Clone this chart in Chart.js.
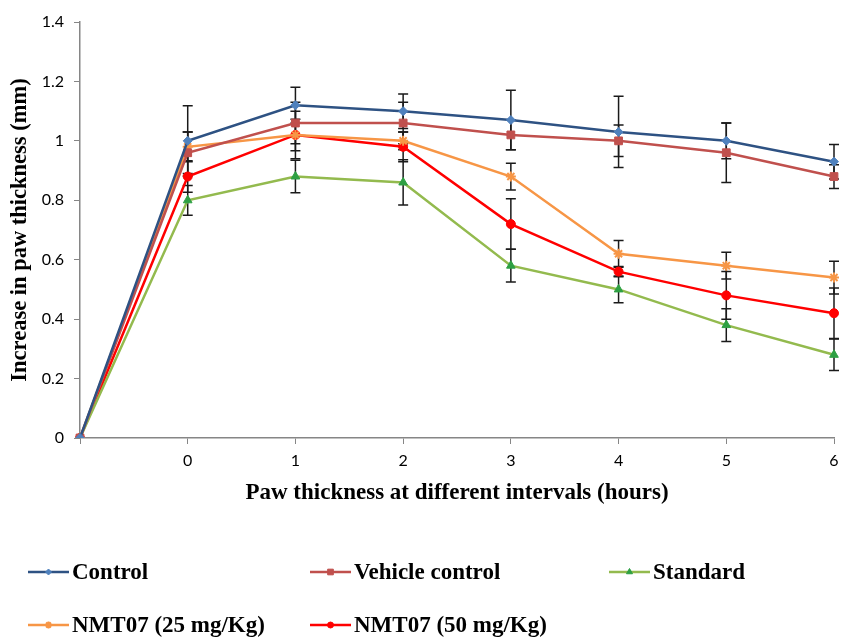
<!DOCTYPE html>
<html>
<head>
<meta charset="utf-8">
<script src="https://cdn.jsdelivr.net/npm/chart.js@4.4.0/dist/chart.umd.min.js"></script>
<style>
  html, body { margin: 0; padding: 0; background: #fff; }
  #wrap { width: 841px; height: 637px; }
</style>
</head>
<body>
<div id="wrap"><canvas id="pawChart"></canvas></div>
<script>
// time points (hours); the first, unlabeled one is the baseline
const hours = ["", "0", "1", "2", "3", "4", "5", "6"];
const yTicks = ["0", "0.2", "0.4", "0.6", "0.8", "1", "1.2", "1.4"];

const control        = [0, 1.00, 1.12, 1.10, 1.07, 1.03, 1.00, 0.93];
const controlErr     = [0, 0.118, 0.06, 0.058, 0.10, 0.12, 0.06, 0.058];
const vehicle        = [0, 0.96, 1.06, 1.06, 1.02, 1.00, 0.96, 0.88];
const vehicleErr     = [0, 0.07, 0.07, 0.07, 0.05, 0.053, 0.10, 0.04];
const standard       = [0, 0.80, 0.88, 0.86, 0.58, 0.50, 0.38, 0.28];
const standardErr    = [0, 0.05, 0.055, 0.076, 0.055, 0.045, 0.055, 0.053];
const nmt25          = [0, 0.98, 1.02, 1.00, 0.88, 0.62, 0.58, 0.54];
const nmt25Err       = [0, 0.05, 0.08, 0.03, 0.045, 0.045, 0.045, 0.055];
const nmt50          = [0, 0.88, 1.02, 0.98, 0.72, 0.56, 0.48, 0.42];
const nmt50Err       = [0, 0.053, 0.053, 0.05, 0.085, 0.017, 0.08, 0.085];

const serif = "'Liberation Serif', 'Times New Roman', serif";

function series(label, data, err, line, marker, style, radius) {
  return {
    label: label,
    data: data,
    errors: err,
    borderColor: line,
    backgroundColor: marker,
    pointBackgroundColor: marker,
    pointBorderColor: marker,
    pointStyle: style,
    pointRadius: radius,
    pointBorderWidth: style === "star" ? 2 : 1,
    borderWidth: 2.5,
    tension: 0
  };
}

// vertical +/- bars with caps, under the lines
const errorBars = {
  id: "errorBars",
  beforeDatasetsDraw(chart) {
    const ctx = chart.ctx;
    const y = chart.scales.y;
    ctx.save();
    ctx.strokeStyle = "#1a1a1a";
    ctx.lineWidth = 1.5;
    chart.data.datasets.forEach((ds, i) => {
      const meta = chart.getDatasetMeta(i);
      ds.data.forEach((v, j) => {
        const e = ds.errors[j];
        if (!e) return;
        const x = meta.data[j].x;
        const top = y.getPixelForValue(v + e);
        const bot = y.getPixelForValue(v - e);
        ctx.beginPath();
        ctx.moveTo(x, top); ctx.lineTo(x, bot);
        ctx.moveTo(x - 5, top); ctx.lineTo(x + 5, top);
        ctx.moveTo(x - 5, bot); ctx.lineTo(x + 5, bot);
        ctx.stroke();
      });
    });
    ctx.restore();
  }
};

// legend laid out in a fixed grid under the axis title
const legendSlots = [[28, 572], [310, 572], [609, 572], [28, 625], [310, 625]];
const gridLegend = {
  id: "gridLegend",
  afterDraw(chart) {
    const ctx = chart.ctx;
    ctx.save();
    chart.data.datasets.forEach((ds, i) => {
      const [x, yy] = legendSlots[i];
      ctx.strokeStyle = ds.borderColor;
      ctx.lineWidth = 2.5;
      ctx.beginPath();
      ctx.moveTo(x, yy); ctx.lineTo(x + 41, yy);
      ctx.stroke();
      ctx.fillStyle = ds.pointBackgroundColor;
      ctx.strokeStyle = ds.pointBorderColor;
      ctx.lineWidth = ds.pointBorderWidth;
      Chart.helpers.drawPoint(ctx, {
        pointStyle: ds.pointStyle,
        radius: Math.max(ds.pointRadius - 1.5, 3),
        borderWidth: ds.pointBorderWidth,
        rotation: 0
      }, x + 20.5, yy);
      ctx.fillStyle = "#000";
      ctx.font = "bold 23px " + serif;
      ctx.textBaseline = "middle";
      ctx.textAlign = "left";
      ctx.fillText(ds.label, x + 44, yy + 1);
    });
    ctx.restore();
  }
};

new Chart(document.getElementById("pawChart"), {
  type: "line",
  data: {
    labels: hours,
    datasets: [
      series("Control", control, controlErr, "#2E5283", "#4F81BD", "rectRot", 4.5),
      series("Vehicle control", vehicle, vehicleErr, "#C0504D", "#C0504D", "rect", 5.5),
      series("Standard", standard, standardErr, "#93BA4E", "#2EA043", "triangle", 5),
      series("NMT07 (25 mg/Kg)", nmt25, nmt25Err, "#F79646", "#F79646", "star", 5),
      series("NMT07 (50 mg/Kg)", nmt50, nmt50Err, "#FF0000", "#FF0000", "circle", 4.5)
    ]
  },
  options: {
    responsive: true,
    maintainAspectRatio: false,
    animation: false,
    layout: { padding: { top: 22, right: 7, bottom: 127, left: 0 } },
    plugins: {
      legend: { display: false },
      tooltip: { enabled: false }
    },
    scales: {
      x: {
        offset: false,
        afterFit: (s) => { s.height = 72; s.paddingLeft = 0; s.paddingRight = 0; },
        border: { color: "#868686", width: 1.5 },
        grid: { drawOnChartArea: false, color: "#868686", tickLength: 6 },
        ticks: { color: "#000", font: { family: "Lato, sans-serif", size: 16 }, padding: 7, maxRotation: 0 },
        title: {
          display: true,
          text: "Paw thickness at different intervals (hours)",
          color: "#000",
          font: { family: serif, size: 23, weight: "bold" },
          padding: { top: 0, bottom: 3 }
        }
      },
      y: {
        min: 0,
        max: 1.4,
        afterFit: (s) => { s.width = 80; },
        border: { color: "#868686", width: 1.5 },
        grid: { drawOnChartArea: false, color: "#868686", tickLength: 6 },
        ticks: {
          stepSize: 0.2,
          color: "#000",
          font: { family: "Lato, sans-serif", size: 16 },
          padding: 10,
          callback: (v, i) => yTicks[i]
        },
        title: {
          display: true,
          text: "Increase in paw thickness (mm)",
          color: "#000",
          font: { family: serif, size: 22.5, weight: "bold" },
          padding: { top: 7, bottom: 0 }
        }
      }
    }
  },
  plugins: [errorBars, gridLegend]
});
</script>
</body>
</html>
